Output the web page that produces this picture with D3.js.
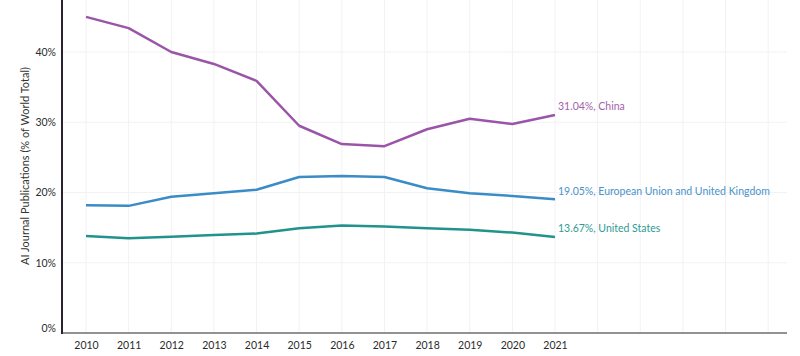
<!DOCTYPE html>
<html><head><meta charset="utf-8">
<script src="https://cdn.jsdelivr.net/npm/d3@7"></script>
<style>body{margin:0;background:#fff}svg{display:block}text{font-family:Lato,"Open Sans",sans-serif}</style>
</head><body><svg id="c" width="800" height="356"></svg>
<script>
const years = [2010,2011,2012,2013,2014,2015,2016,2017,2018,2019,2020,2021];
const china = [45.0,43.4,40.0,38.3,35.9,29.5,26.9,26.6,29.0,30.5,29.75,31.04];
const euuk = [18.2,18.1,19.4,19.9,20.4,22.2,22.35,22.2,20.6,19.9,19.5,19.05];
const us = [13.8,13.5,13.7,13.95,14.15,14.9,15.3,15.15,14.9,14.7,14.3,13.67];
const seriesNames = ["China","European Union and United Kingdom","United States"];
const seriesColors = ["#9a55a8","#3a8cc6","#21938d"];
const labelColors = ["#a062ad","#4a93c9","#2f9a94"];
const yTicks = [0,10,20,30,40];

const svg = d3.select("#c");
const x = d3.scaleLinear().domain([2010,2021]).range([86,555]);
const y = d3.scaleLinear().domain([0,40]).range([333,52]);
const left = 62, right = 787;

const gridYears = d3.range(2010,2027);
svg.append("g").selectAll("line").data(gridYears).join("line")
  .attr("x1",d=>x(d)).attr("x2",d=>x(d)).attr("y1",0).attr("y2",333)
  .attr("stroke","#f2f2f5").attr("stroke-width",1);
svg.append("g").selectAll("line").data(yTicks.filter(d=>d>0)).join("line")
  .attr("x1",left).attr("x2",right).attr("y1",d=>y(d)).attr("y2",d=>y(d))
  .attr("stroke","#f2f2f5").attr("stroke-width",1);

const xa = svg.append("g").attr("transform","translate(0,333)")
  .call(d3.axisBottom(x).tickValues(years).tickFormat(d3.format("d")).tickSize(0).tickPadding(9));
xa.select(".domain").remove();
xa.selectAll("text").attr("font-size",10.5).attr("fill","#2b2b2b");
svg.append("line").attr("x1",left).attr("x2",right).attr("y1",333).attr("y2",333)
  .attr("stroke","#6e6e6e").attr("stroke-width",1.5);

const ya = svg.append("g").attr("transform",`translate(${left},0)`)
  .call(d3.axisLeft(y).tickValues(yTicks).tickFormat(d=>d+"%").tickSize(0).tickPadding(6));
ya.select(".domain").remove();
ya.selectAll("text").attr("font-size",10.5).attr("fill","#2b2b2b");
ya.selectAll(".tick").filter(d=>d===0).select("text").attr("dy","-0.1em");
svg.append("line").attr("x1",left).attr("x2",left).attr("y1",0).attr("y2",334)
  .attr("stroke","#2a2230").attr("stroke-width",2);

svg.append("text").attr("transform","translate(29,166) rotate(-90)")
  .attr("text-anchor","middle").attr("font-size",11).attr("fill","#333")
  .text("AI Journal Publications (% of World Total)");

const data = [china, euuk, us];
const line = d3.line().x((d,i)=>x(years[i])).y(d=>y(d));
data.forEach((s,k)=>{
  svg.append("path").datum(s).attr("d",line).attr("fill","none")
    .attr("stroke",seriesColors[k]).attr("stroke-width",2.5).attr("stroke-linejoin","round");
  const last = s[s.length-1];
  svg.append("text").attr("x",x(2021)+3).attr("y",y(last)-4.5)
    .attr("font-size",10.5).attr("fill",labelColors[k])
    .text(d3.format(".2f")(last)+"%, "+seriesNames[k]);
});
</script></body></html>
